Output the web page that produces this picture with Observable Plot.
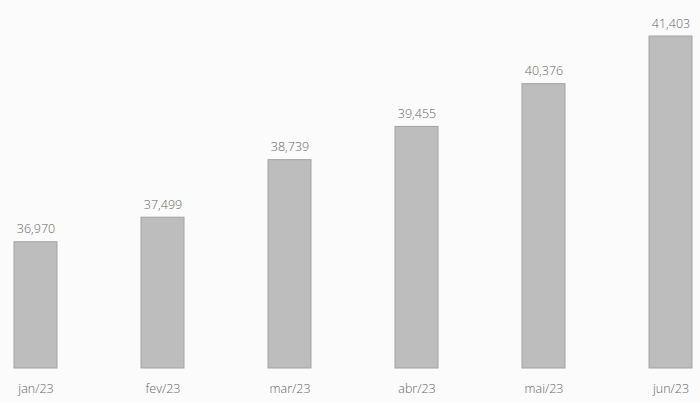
<!DOCTYPE html>
<html>
<head>
<meta charset="utf-8">
<script src="https://cdn.jsdelivr.net/npm/d3@7"></script>
<script src="https://cdn.jsdelivr.net/npm/@observablehq/plot@0.6"></script>
<style>
  html, body { margin: 0; padding: 0; background: #fbfbfb; }
  #chart { width: 700px; height: 403px; }
</style>
</head>
<body>
<div id="chart"></div>
<script>
const months = ["jan/23", "fev/23", "mar/23", "abr/23", "mai/23", "jun/23"];
const values = [36970, 37499, 38739, 39455, 40376, 41403];
const valueLabels = ["36,970", "37,499", "38,739", "39,455", "40,376", "41,403"];
const yBase = 34250;

const data = months.map((m, i) => ({month: m, value: values[i], label: valueLabels[i]}));

const chart = Plot.plot({
  width: 700,
  height: 403,
  marginTop: 36,
  marginBottom: 35,
  marginLeft: 0,
  marginRight: 0,
  style: {fontFamily: "'Open Sans', sans-serif", fontSize: "12.5px", color: "#666", background: "#fbfbfb"},
  x: {domain: months, range: [12, 695], paddingInner: 0.66, paddingOuter: 0},
  y: {domain: [yBase, d3.max(values)], axis: null},
  marks: [
    Plot.barY(data, {x: "month", y1: () => yBase, y2: "value", fill: "#bdbdbd", stroke: "#a3a3a3", strokeWidth: 1}),
    Plot.text(data, {x: "month", y: "value", text: "label", dy: -13, fill: "#666", fontSize: 12.5, fontWeight: 300}),
    Plot.axisX({tickSize: 0, tickPadding: 16, label: null, fill: "#666", fontSize: 12.5, fontWeight: 300})
  ]
});
document.getElementById("chart").appendChild(chart);
</script>
</body>
</html>
